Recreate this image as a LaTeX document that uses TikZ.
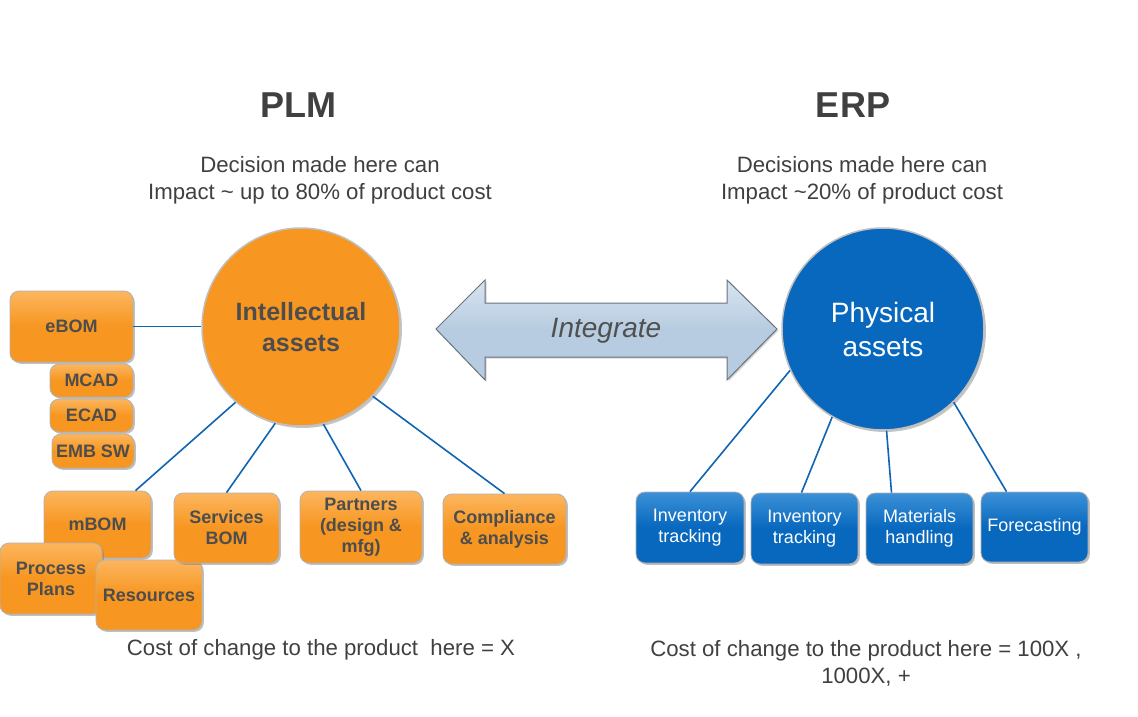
\documentclass[tikz,border=0pt]{standalone}
\usepackage{fontspec}
\setmainfont{Liberation Sans}
\usetikzlibrary{shadows,calc}
\definecolor{orMain}{RGB}{247,150,32}
\definecolor{orLight}{RGB}{252,182,95}
\definecolor{blMain}{RGB}{8,104,190}
\definecolor{blLight}{RGB}{60,145,215}
\definecolor{lineBlue}{RGB}{16,100,180}
\definecolor{txt}{RGB}{64,64,64}
\definecolor{boxTxt}{RGB}{77,77,77}
\definecolor{arrFill}{RGB}{183,204,224}
\definecolor{arrLight}{RGB}{215,228,240}
\definecolor{arrEdge}{RGB}{105,115,125}
\tikzset{
  obox/.style={rectangle, rounded corners=9pt, draw=gray!60, line width=0.8pt,
    top color=orLight, bottom color=orMain, middle color=orMain,
    drop shadow={opacity=0.5,shadow xshift=1.8pt,shadow yshift=-1.8pt},
    text=boxTxt, font=\fontsize{18}{21}\selectfont\bfseries, align=center, inner sep=0pt},
  bbox/.style={rectangle, rounded corners=9pt, draw=gray!60, line width=0.8pt,
    top color=blLight, bottom color=blMain, middle color=blMain,
    drop shadow={opacity=0.5,shadow xshift=1.8pt,shadow yshift=-1.8pt},
    text=white, font=\fontsize{18}{21}\selectfont, align=center, inner sep=0pt},
  conn/.style={draw=lineBlue, line width=1.6pt},
  bigcirc/.style={circle, minimum size=198pt, draw=gray!50, line width=1.5pt,
    drop shadow={opacity=0.45,shadow xshift=2pt,shadow yshift=-2pt}, align=center, inner sep=0pt},
  title/.style={text=txt, font=\fontsize{36}{40}\selectfont\bfseries},
  sub/.style={text=txt, font=\fontsize{22.2}{27}\selectfont, align=center},
}
\begin{document}
\begin{tikzpicture}[x=1pt,y=-1pt]
\useasboundingbox (0,0) rectangle (1138,717);
\fill[white] (0,0) rectangle (1138,717);

% titles
\node[title] (plm) at (298,105) {PLM};
\node[title] (erp) at (853,105) {ERP};
\node[sub] (subL) at (320,180.5) {Decision made here can\\Impact \textasciitilde{} up to 80\% of product cost};
\node[sub] (subR) at (862,180.5) {Decisions made here can\\Impact \textasciitilde20\% of product cost};

% circles
\node[bigcirc, fill=orMain, text=boxTxt, font=\fontsize{25}{31}\selectfont\bfseries] (ia) at (301,327) {Intellectual\\assets};
\node[bigcirc, fill=blMain, text=white, font=\fontsize{28}{34}\selectfont, minimum size=202pt] (pa) at (883,329) {Physical\\assets};

% left boxes
\node[obox, minimum width=123pt, minimum height=71pt] (ebom) at (71.5,326.5) {eBOM};
\node[obox, minimum width=83pt, minimum height=33pt] (mcad) at (91.5,380.5) {MCAD};
\node[obox, minimum width=83pt, minimum height=33pt] (ecad) at (91.5,415.5) {ECAD};
\node[obox, minimum width=82pt, minimum height=34pt] (emb) at (93,451) {EMB SW};
\node[obox, minimum width=107pt, minimum height=67pt] (mbom) at (97.5,524.5) {mBOM};
\node[obox, minimum width=102pt, minimum height=71pt] (pp) at (51,578.5) {Process\\Plans};
\node[obox, minimum width=106pt, minimum height=70pt] (res) at (149,595) {Resources};
\node[obox, minimum width=105pt, minimum height=70pt] (sbom) at (226.5,528) {Services\\BOM};
\node[obox, minimum width=122pt, minimum height=72pt] (part) at (361,527) {Partners\\(design \&\\mfg)};
\node[obox, minimum width=123pt, minimum height=70pt] (comp) at (504.5,529) {Compliance\\\& analysis};

% right boxes
\node[bbox, minimum width=108pt, minimum height=71pt] (it1) at (690,527.5) {Inventory\\tracking};
\node[bbox, minimum width=107pt, minimum height=71pt] (it2) at (804.5,528.5) {Inventory\\tracking};
\node[bbox, minimum width=107pt, minimum height=71pt] (mh) at (919.5,528.5) {Materials\\handling};
\node[bbox, minimum width=107pt, minimum height=70pt] (fc) at (1034.5,527) {Forecasting};

% connectors
\draw[conn] (ebom.east) -- (ebom.east -| ia.west);
\draw[conn] (ia.229) -- ($(mbom.north)+(38,0)$);
\draw[conn] (ia.255) -- (sbom.north);
\draw[conn] (ia.283) -- (part.north);
\draw[conn] (ia.316) -- (comp.north);
\draw[conn] (pa.204) -- (it1.north);
\draw[conn] (pa.240) -- ($(it2.north)+(-3,0)$);
\draw[conn] (pa.272) -- ($(mh.north)+(-28,0)$);
\draw[conn] (pa.314) -- ($(fc.north)+(-28,0)$);

% integrate arrow
\draw[arrEdge, line width=1pt, top color=arrLight, bottom color=arrFill, middle color=arrFill,
  drop shadow={opacity=0.35,shadow xshift=1.5pt,shadow yshift=-1.5pt}]
  (436,329) -- (485,280) -- (485,303) -- (727,303) -- (727,280) -- (777,329)
  -- (727,380) -- (727,357) -- (485,357) -- (485,380) -- cycle;
\node[text={rgb,255:red,80;green,80;blue,80}, font=\fontsize{28}{32}\selectfont\itshape] (integ) at (606,331) {Integrate};

% bottom texts
\node[sub] (costL) at (321,650) {Cost of change to the product\ \ here = X};
\node[sub] (costR) at (866,663.5) {Cost of change to the product here = 100X ,\\1000X, +};
\end{tikzpicture}
\end{document}
